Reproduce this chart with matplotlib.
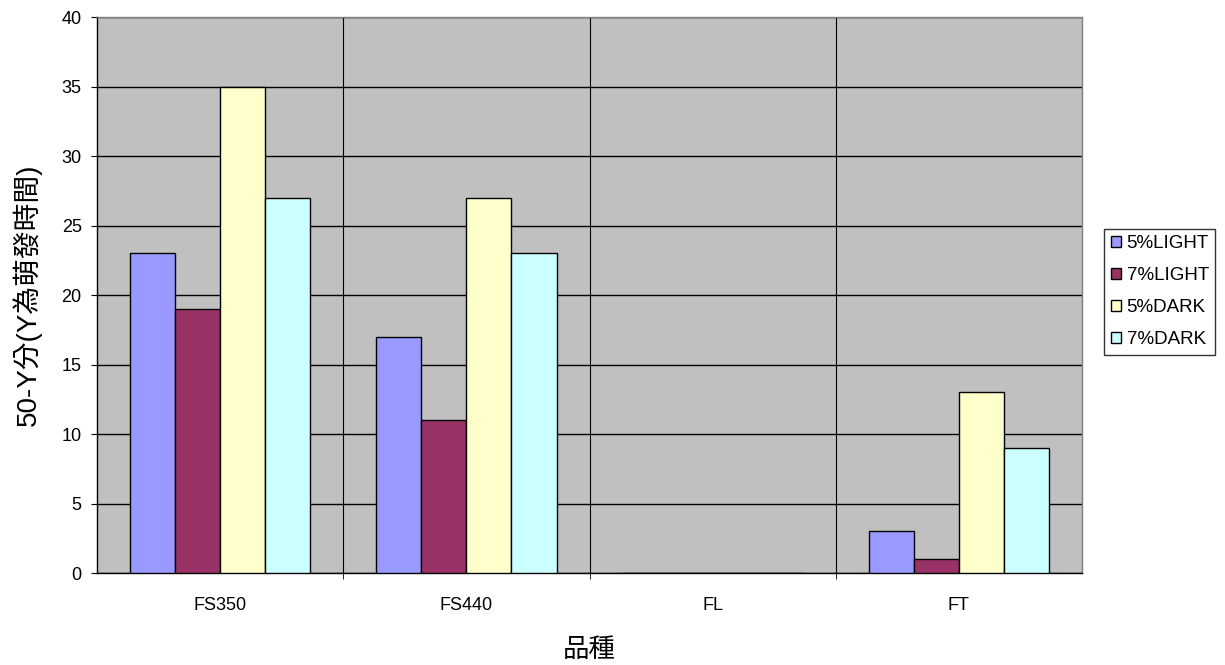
import numpy as np
import matplotlib
matplotlib.use("Agg")
import matplotlib.pyplot as plt
from matplotlib.ticker import MultipleLocator, FixedLocator

plt.rcParams["font.family"] = ["Liberation Sans", "Noto Sans CJK TC", "DejaVu Sans"]

# data
varieties = ["FS350", "FS440", "FL", "FT"]
series_names = ["5%LIGHT", "7%LIGHT", "5%DARK", "7%DARK"]
light_5 = [23, 17, 0, 3]
light_7 = [19, 11, 0, 1]
dark_5 = [35, 27, 0, 13]
dark_7 = [27, 23, 0, 9]
series = [light_5, light_7, dark_5, dark_7]
colors = ["#9999FF", "#993366", "#FFFFCC", "#CCFFFF"]

fig = plt.figure(figsize=(12.25, 6.65), dpi=100)
ax = fig.add_axes([0.0792, 0.1383, 0.8041, 0.8361])
ax.set_facecolor("#C0C0C0")

x = np.arange(len(varieties))
bw = 0.183
for i, (vals, name, c) in enumerate(zip(series, series_names, colors)):
    ax.bar(x + (i - 1.5) * bw, vals, width=bw, color=c, edgecolor="black",
           linewidth=1.0, label=name, zorder=3)

ax.set_xlim(-0.5, len(varieties) - 0.5)
ax.set_ylim(0, 40)
ax.yaxis.set_major_locator(MultipleLocator(5))
ax.set_xticks(x)
ax.set_xticklabels(varieties, fontsize=13)
ax.xaxis.set_minor_locator(FixedLocator(np.arange(0.5, len(varieties) - 0.5, 1)))
ax.tick_params(axis="x", which="major", length=0, pad=17)
ax.tick_params(axis="x", which="minor", length=4, direction="out")
ax.tick_params(axis="y", length=4, direction="out", labelsize=13, pad=7)

# horizontal and category gridlines
ax.grid(axis="y", which="major", color="black", linewidth=1.0, zorder=1)
ax.grid(axis="x", which="minor", color="black", linewidth=0.8, zorder=1)
ax.set_axisbelow(True)
for s in ax.spines.values():
    s.set_linewidth(1.0)
    s.set_color("black")
ax.spines["right"].set_color("#808080")
ax.spines["top"].set_color("#808080")

ax.text(-0.071, 0.5, "50-Y分(Y為萌發時間)", transform=ax.transAxes,
        rotation=90, ha="center", va="center", fontsize=20,
        family=["Liberation Sans", "Noto Sans CJK TC"])
ax.text(0.5, -0.138, "品種", transform=ax.transAxes,
        ha="center", va="center", fontsize=19,
        family=["Noto Sans CJK TC", "Liberation Sans"])

leg = ax.legend(loc="center left", bbox_to_anchor=(1.0223, 0.506), fontsize=13.5,
                frameon=True, fancybox=False, edgecolor="black",
                handlelength=0.55, handleheight=0.55, handletextpad=0.3,
                borderpad=0.35, labelspacing=0.8, borderaxespad=0)
leg.get_frame().set_linewidth(1.0)

fig.savefig("out.png", dpi=100)
